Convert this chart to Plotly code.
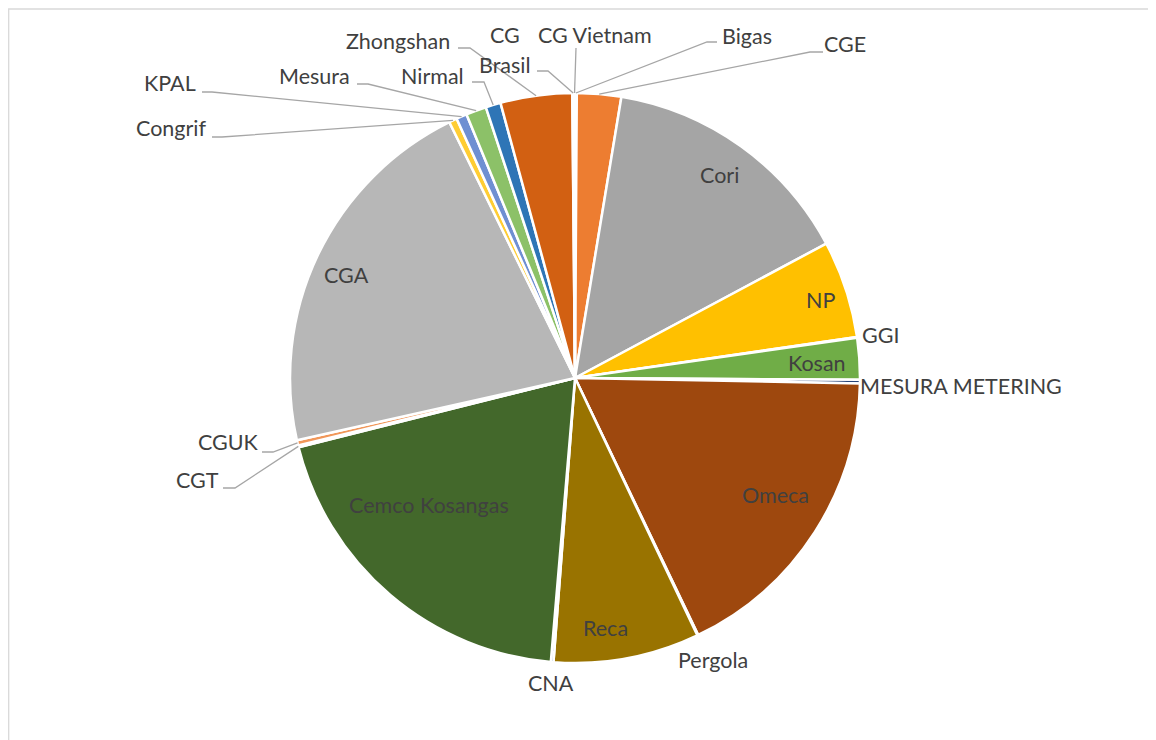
"""Pie chart of share by company, Excel-style labels with leader lines."""

import numpy as np
import plotly.graph_objects as go

W, H = 1156, 740
PAGE_OFFSET = 8  # the page body margin shifts the figure by this much
CX, CY, R = 575, 378, 285  # pie centre and radius in screen pixels

labels = [
    "Bigas", "CGE", "Cori", "NP", "GGI", "Kosan", "MESURA METERING", "Omeca",
    "Pergola", "Reca", "CNA", "Cemco Kosangas", "CGT", "CGUK", "CGA", "Congrif",
    "KPAL", "Mesura", "Nirmal", "Zhongshan", "Brasil", "CG", "CG Vietnam",
]
values = [
    0.10, 2.50, 14.55, 5.50, 0.05, 2.35, 0.20, 17.55,
    0.05, 8.25, 0.15, 19.70, 0.10, 0.30, 21.20, 0.45,
    0.60, 1.15, 0.85, 4.05, 0.10, 0.00, 0.05,
]
colors = [
    "#4472C4", "#ED7D31", "#A5A5A5", "#FFC000", "#5B9BD5", "#70AD47", "#264478", "#9E480E",
    "#636363", "#997300", "#255E91", "#43682B", "#698ED0", "#F1975A", "#B7B7B7", "#FFCD33",
    "#6F8FD2", "#8CC168", "#2E75B6", "#D26012", "#848484", "#CC9A00", "#3C7DC4",
]

# label text centres (screen pixels), as placed in the original chart
LABEL_XY = {
    "Bigas": (747, 36), "CGE": (845, 44), "Cori": (719, 175), "NP": (820, 300),
    "GGI": (880, 335), "Kosan": (817, 363), "MESURA METERING": (961, 386),
    "Omeca": (775, 495), "Pergola": (713, 660), "Reca": (605, 628), "CNA": (551, 683),
    "Cemco Kosangas": (429, 505), "CGT": (197, 480), "CGUK": (228, 442),
    "CGA": (346, 275), "Congrif": (171, 128), "KPAL": (170, 83), "Mesura": (314, 76),
    "Nirmal": (432, 76), "Zhongshan": (398, 41), "Brasil": (505, 65), "CG": (505, 35),
    "CG Vietnam": (595, 35),
}

# leader line points next to the label; the line then runs to the slice rim
LEADERS = {
    "CG Vietnam": [(576, 48)],
    "Bigas": [(717, 42), (707, 42)],
    "CGE": [(823, 52), (810, 52)],
    "Brasil": [(537, 71), (548, 71)],
    "Zhongshan": [(458, 48), (470, 48)],
    "Nirmal": [(472, 82), (484, 82)],
    "Mesura": [(357, 84), (368, 84)],
    "KPAL": [(202, 92), (212, 92)],
    "Congrif": [(212, 137), (222, 137)],
    "CGUK": [(262, 452), (273, 452)],
    "CGT": [(223, 488), (235, 488)],
}

TEXT_FONT = dict(family="Lato, 'Noto Sans', sans-serif", size=21.5, color="#404040")


def px(x):
    return (x - PAGE_OFFSET) / W


def py(y):
    return 1 - (y - PAGE_OFFSET) / H


vals = np.array(values)
start = np.cumsum(vals) - vals
mid_deg = (start + vals / 2) / vals.sum() * 360.0  # clockwise from 12 o'clock
rim = {
    lab: (CX + R * np.sin(np.radians(a)), CY - R * np.cos(np.radians(a)))
    for lab, a in zip(labels, mid_deg)
}

fig = go.Figure(
    go.Pie(
        labels=labels,
        values=values,
        sort=False,
        direction="clockwise",
        rotation=0,
        marker=dict(colors=colors, line=dict(color="white", width=2.5)),
        textinfo="none",
        hoverinfo="label+percent",
        showlegend=False,
        domain=dict(
            x=[px(CX - R), px(CX + R)],
            y=[py(CY + R), py(CY - R)],
        ),
    )
)

annotations = []
for lab in labels:
    x, y = LABEL_XY[lab]
    annotations.append(
        dict(
            x=px(x), y=py(y), xref="paper", yref="paper",
            text=lab, showarrow=False, xanchor="center", yanchor="middle",
            font=TEXT_FONT,
        )
    )

shapes = []
for lab, pts in LEADERS.items():
    path_pts = pts + [rim[lab]]
    d = "M " + " L ".join(f"{px(x):.5f},{py(y):.5f}" for x, y in path_pts)
    shapes.append(
        dict(type="path", path=d, xref="paper", yref="paper",
             line=dict(color="#A6A6A6", width=1.3))
    )

# chart area frame (only the top and left edges fall inside the picture)
shapes.append(
    dict(type="rect", xref="paper", yref="paper",
         x0=px(8.7), y0=py(H + 20), x1=px(W + 20), y1=py(9),
         line=dict(color="#D9D9D9", width=1.3))
)

fig.update_layout(
    width=W,
    height=H,
    margin=dict(l=0, r=0, t=0, b=0),
    paper_bgcolor="white",
    plot_bgcolor="white",
    annotations=annotations,
    shapes=shapes,
)

fig.write_html("out.html")
